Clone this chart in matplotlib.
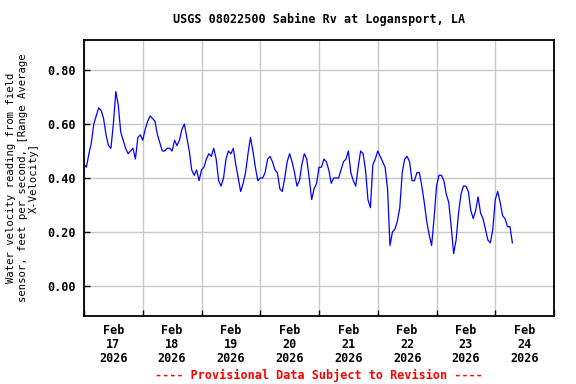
import matplotlib
matplotlib.use('Agg')
import matplotlib.pyplot as plt
import matplotlib.dates as mdates
from matplotlib.ticker import FormatStrFormatter, NullFormatter
import pandas as pd

# hourly water velocity readings, ft/s, starting Feb 17 2026 00:00
velocity = [
    0.45, 0.44, 0.49, 0.53, 0.60, 0.63, 0.66, 0.65, 0.62, 0.56, 0.52, 0.51,
    0.60, 0.72, 0.67, 0.57, 0.54, 0.51, 0.49, 0.50, 0.51, 0.47, 0.55, 0.56,
    0.54, 0.58, 0.61, 0.63, 0.62, 0.61, 0.56, 0.53, 0.50, 0.50, 0.51, 0.51,
    0.50, 0.54, 0.52, 0.54, 0.58, 0.60, 0.55, 0.50, 0.43, 0.41, 0.43, 0.39,
    0.43, 0.44, 0.47, 0.49, 0.48, 0.51, 0.47, 0.39, 0.37, 0.40, 0.47, 0.50,
    0.49, 0.51, 0.45, 0.40, 0.35, 0.38, 0.42, 0.49, 0.55, 0.50, 0.44, 0.39,
    0.40, 0.40, 0.42, 0.47, 0.48, 0.46, 0.43, 0.42, 0.36, 0.35, 0.40, 0.46,
    0.49, 0.46, 0.42, 0.37, 0.39, 0.45, 0.49, 0.47, 0.40, 0.32, 0.36, 0.38,
    0.44, 0.44, 0.47, 0.46, 0.43, 0.38, 0.40, 0.40, 0.40, 0.43, 0.46, 0.47,
    0.50, 0.42, 0.39, 0.37, 0.44, 0.50, 0.49, 0.43, 0.32, 0.29, 0.45, 0.47,
    0.50, 0.48, 0.46, 0.44, 0.36, 0.15, 0.20, 0.21, 0.24, 0.29, 0.42, 0.47,
    0.48, 0.46, 0.39, 0.39, 0.42, 0.42, 0.37, 0.31, 0.24, 0.19, 0.15, 0.25,
    0.37, 0.41, 0.41, 0.39, 0.34, 0.31, 0.22, 0.12, 0.17, 0.27, 0.34, 0.37,
    0.37, 0.35, 0.28, 0.25, 0.28, 0.33, 0.27, 0.25, 0.21, 0.17, 0.16, 0.21,
    0.32, 0.35, 0.31, 0.26, 0.25, 0.22, 0.22, 0.16,
]
times = pd.date_range('2026-02-17 00:00', periods=len(velocity), freq='h')

y_ticks = [0.0, 0.2, 0.4, 0.6, 0.8]

title = 'USGS 08022500 Sabine Rv at Logansport, LA'
ylabel = ('Water velocity reading from field\n'
          'sensor, feet per second, [Range Average\n'
          'X-Velocity]')
footer = '---- Provisional Data Subject to Revision ----'

plt.rcParams['font.family'] = 'DejaVu Sans Mono'
plt.rcParams['font.weight'] = 'bold'

fig = plt.figure(figsize=(5.76, 3.84), dpi=100)
ax = fig.add_axes([84 / 576, 1 - 316 / 384, 470 / 576, 276 / 384])

ax.plot(times, velocity, color='#0000ff', lw=0.9)

ax.set_xlim(pd.Timestamp('2026-02-17'), pd.Timestamp('2026-02-25'))
ax.set_ylim(-0.111, 0.911)
ax.set_yticks(y_ticks)
ax.yaxis.set_major_formatter(FormatStrFormatter('%.2f'))

# grid at midnight, labels at noon
ax.xaxis.set_major_locator(mdates.DayLocator())
ax.xaxis.set_major_formatter(NullFormatter())
ax.xaxis.set_minor_locator(mdates.HourLocator(byhour=[12]))
ax.xaxis.set_minor_formatter(mdates.DateFormatter('%b\n%d\n%Y'))

ax.tick_params(axis='both', which='major', direction='in', length=4,
               width=1, labelsize=8.5, pad=6)
ax.tick_params(axis='x', which='minor', length=0, labelsize=8.5, pad=6)
for lbl in ax.get_xticklabels(minor=True):
    lbl.set_linespacing(1.1)

ax.grid(True, which='major', color='#c8c8c8', lw=1)
ax.set_axisbelow(True)
for sp in ax.spines.values():
    sp.set_linewidth(1.3)

ax.set_ylabel(ylabel, fontsize=7.6, linespacing=1.15, labelpad=6)

fig.text(319 / 576, 1 - 19 / 384, title, ha='center', va='center',
         fontsize=8.5)
fig.text(319 / 576, 1 - 375 / 384, footer, ha='center', va='center',
         fontsize=8.5, color='#ff0000')

fig.savefig('out.png', dpi=100)
